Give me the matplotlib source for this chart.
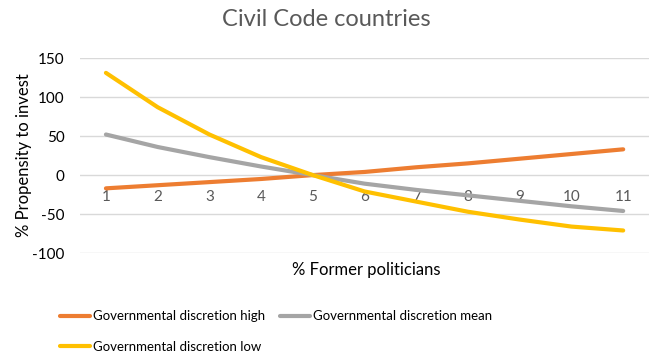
import matplotlib
matplotlib.use("Agg")
import matplotlib.pyplot as plt

plt.rcParams['font.family'] = ['Lato', 'DejaVu Sans']
plt.rcParams['axes.unicode_minus'] = False

categories = ["1", "2", "3", "4", "5", "6", "7", "8", "9", "10", "11"]
disc_high = [-17, -13, -9, -5, 0, 4, 10, 15, 21, 27, 33]
disc_mean = [52, 36, 23, 11, 0, -11, -19, -26, -33, -40, -46]
disc_low = [131, 87, 52, 23, 0, -21, -34, -47, -57, -66, -71]
series_names = ["Governmental discretion high",
                "Governmental discretion mean",
                "Governmental discretion low"]
y_ticks = [-100, -50, 0, 50, 100, 150]

colors = ["#ED7D31", "#A5A5A5", "#FFC000"]

fig = plt.figure(figsize=(6.51, 3.56), dpi=100)
ax = fig.add_axes([0.123, 0.289, 0.874, 0.548])

x = list(range(1, len(categories) + 1))
lines = []
for vals, name, c in zip([disc_high, disc_mean, disc_low], series_names, colors):
    ln, = ax.plot(x, vals, color=c, lw=3.0, solid_capstyle='round', label=name)
    lines.append(ln)

ax.set_xlim(0.5, len(categories) + 0.5)
ax.set_ylim(-100, 150)
ax.set_yticks(y_ticks)
ax.set_xticks(x)
ax.set_xticklabels(categories)
ax.grid(axis='y', color='#D9D9D9', lw=1.0)
ax.set_axisbelow(True)
for s in ['top', 'right', 'left']:
    ax.spines[s].set_visible(False)
ax.spines['bottom'].set_position(('data', 0))
ax.spines['bottom'].set_visible(False)
ax.tick_params(axis='x', length=0, pad=11, labelsize=11, labelcolor='#595959')
ax.tick_params(axis='y', length=0, pad=11, labelsize=11, labelcolor='#000000')

ax.set_ylabel("% Propensity to invest", fontsize=12, color='#000000', labelpad=0)
fig.text(0.562, 1 - 270 / 356, "% Former politicians", fontsize=12,
         ha='center', va='center', color='#000000')
fig.text(0.502, 1 - 20 / 356, "Civil Code countries", fontsize=17,
         ha='center', va='center', color='#595959')

# row-major legend: high, mean on the first row, low on the second
order = [lines[0], lines[2], lines[1]]
fig.legend(handles=order, loc='upper left', bbox_to_anchor=(0.092, 0.128),
           ncol=2, frameon=False, fontsize=9.5, handlelength=2.3,
           handletextpad=0.2, columnspacing=1.1, labelspacing=1.4,
           borderaxespad=0, borderpad=0)

fig.savefig("out.png", dpi=100)
